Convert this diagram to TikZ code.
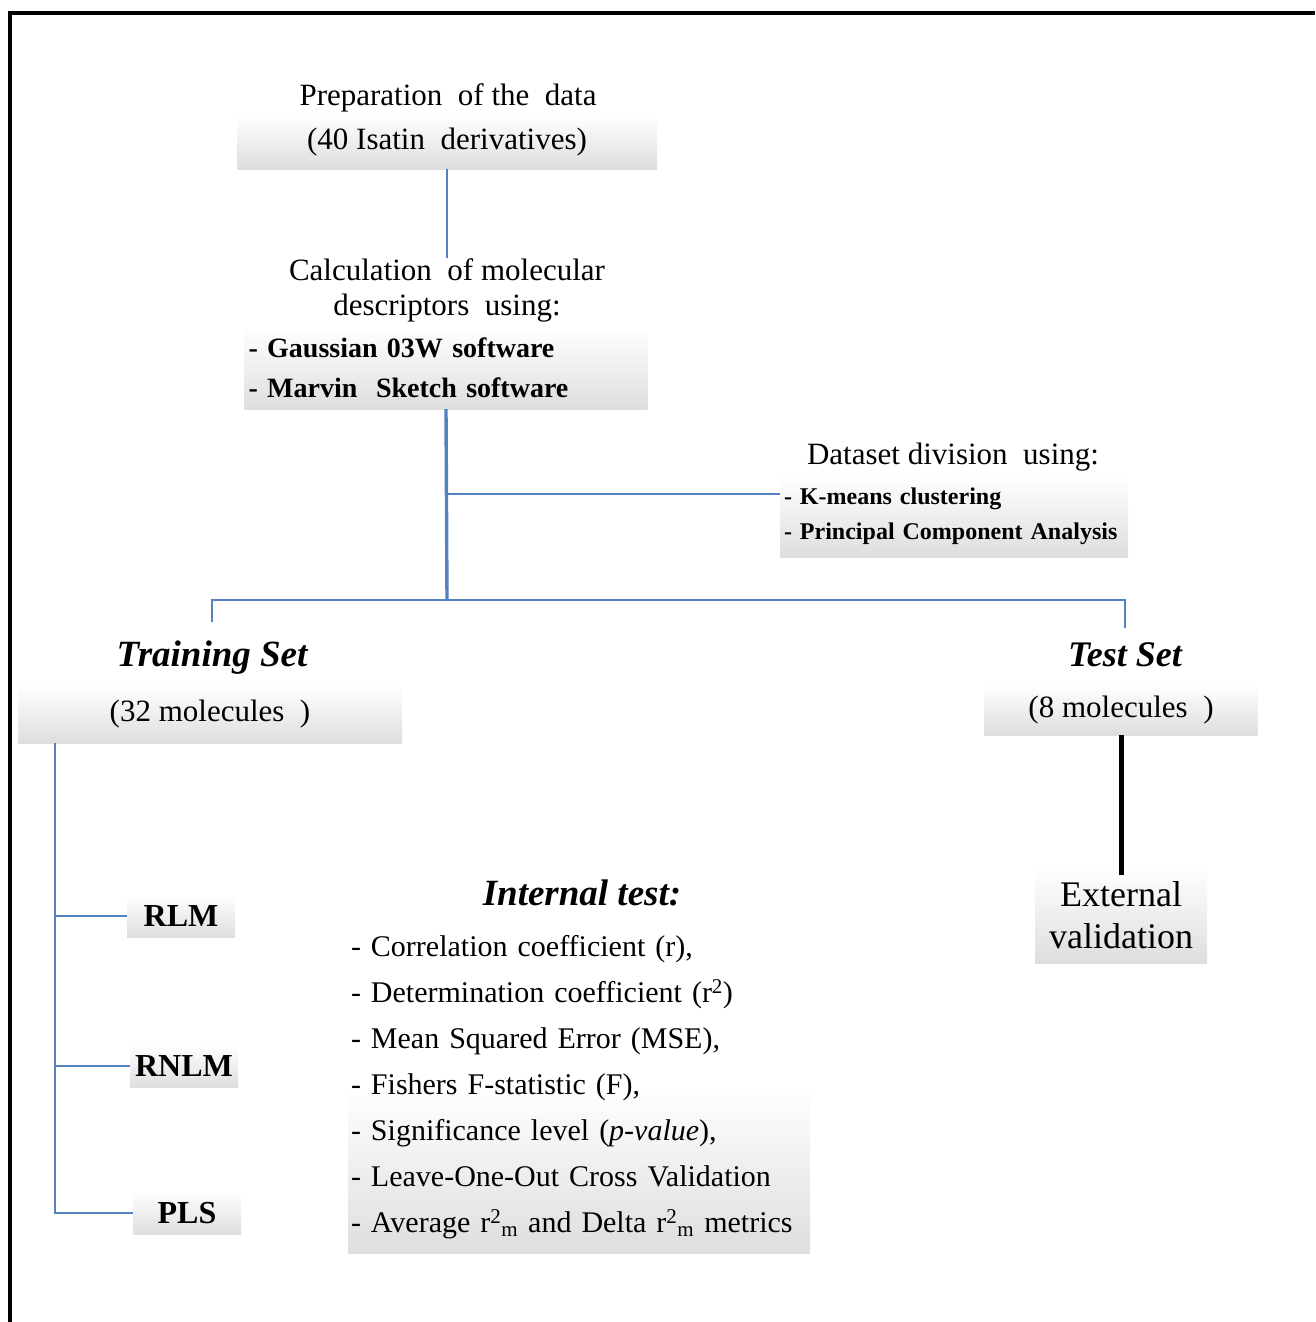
\documentclass[tikz,border=0pt]{standalone}
\usepackage{fontspec}
\setmainfont{Liberation Serif}
\definecolor{lineblue}{RGB}{84,130,190}
\newcommand{\fsz}[2]{\fontsize{#1}{#2}\selectfont}
\begin{document}
\begin{tikzpicture}[x=1pt,y=-1pt,
	link/.style={draw=lineblue,line width=2.6pt},
	boldlink/.style={draw=black,line width=5pt},
	shadebox/.style={top color=white,bottom color=black!13,inner sep=0pt},
	txt/.style={font=\fsz{31}{35},inner sep=0pt}]
\useasboundingbox (0,0) rectangle (1315,1322);
\draw[line width=4pt] (10,1322) -- (10,13) -- (1315,13);

\node[txt] (preptitle) at (448,98) {Preparation\ \ of the\ \ data};
\node[txt,shadebox,minimum width=420,minimum height=54] (prepbox) at (447,142) {(40 Isatin\ \ derivatives)};

\node[txt,align=center] (calctitle) at (447,290) {Calculation\ \ of molecular\\descriptors\ \ using:};
\node[shadebox,font=\bfseries\fsz{28}{40},text width=395,inner xsep=4,minimum height=82,align=left]
	(calcbox) at (446,368) {- Gaussian 03W software\\- Marvin\ \ Sketch software};

\node[txt] (datatitle) at (953,457) {Dataset division\ \ using:};
\node[shadebox,font=\bfseries\fsz{24}{35},text width=340,inner xsep=4,minimum height=82,align=left]
	(databox) at (954,516) {- K-means clustering\\- Principal Component Analysis};

\coordinate (fork) at (447,494);
\coordinate (split) at (447,600);
\draw[link] (prepbox.south) -- (calctitle.north);
\draw[link,line width=3.4pt] (calcbox.south) -- (split);
\draw[link] (fork) -- (fork -| databox.west);

\node[txt,font=\bfseries\itshape\fsz{37}{40}] (traintitle) at (212,658) {Training Set};
\node[txt,shadebox,minimum width=384,minimum height=58] (trainbox) at (210,714) {(32 molecules\ \ )};
\node[txt,font=\bfseries\itshape\fsz{36}{40}] (testtitle) at (1125,655) {Test Set};
\node[txt,shadebox,minimum width=273,minimum height=50] (testbox) at (1121,710) {(8 molecules\ \ )};
\draw[link] ([yshift=19]traintitle.north) |- (split) -| ([yshift=15]testtitle.north);

\node[shadebox,font=\fsz{36}{42},align=center,minimum width=172,minimum height=96]
	(extbox) at (1121,915) {External\\validation};
\draw[boldlink] (testbox.south) -- ([yshift=-8]extbox.north);

\foreach \name/\lbl/\xx/\yy in {rlm/RLM/181/916,rnlm/RNLM/184/1066,pls/PLS/187/1213}
	\node[shadebox,font=\bfseries\fsz{32}{36},minimum width=108,minimum height=43] (\name) at (\xx,\yy) {\lbl};
\coordinate (trunk) at (55,0);
\draw[link] (trainbox.south -| trunk) |- (pls.west);
\draw[link] (trunk |- rlm.west) -- (rlm.west);
\draw[link] (trunk |- rnlm.west) -- (rnlm.west);

\node[txt,font=\bfseries\itshape\fsz{37}{40}] (inttitle) at (582,893) {Internal test:};
\node[shadebox,middle color=white,font=\fsz{30}{46},text width=456,inner xsep=3,minimum height=333,align=left]
	(metrics) at (579,1087) {- Correlation coefficient (r),\\
	- Determination coefficient (r\textsuperscript{2})\\
	- Mean Squared Error (MSE),\\
	- Fishers F-statistic (F),\\
	- Significance level (\textit{p-value}),\\
	- Leave-One-Out Cross Validation\\
	- Average r\textsuperscript{2}\textsubscript{m} and Delta r\textsuperscript{2}\textsubscript{m} metrics};
%\draw[help lines,step=100] (0,0) grid (1315,1322);
\end{tikzpicture}
\end{document}
